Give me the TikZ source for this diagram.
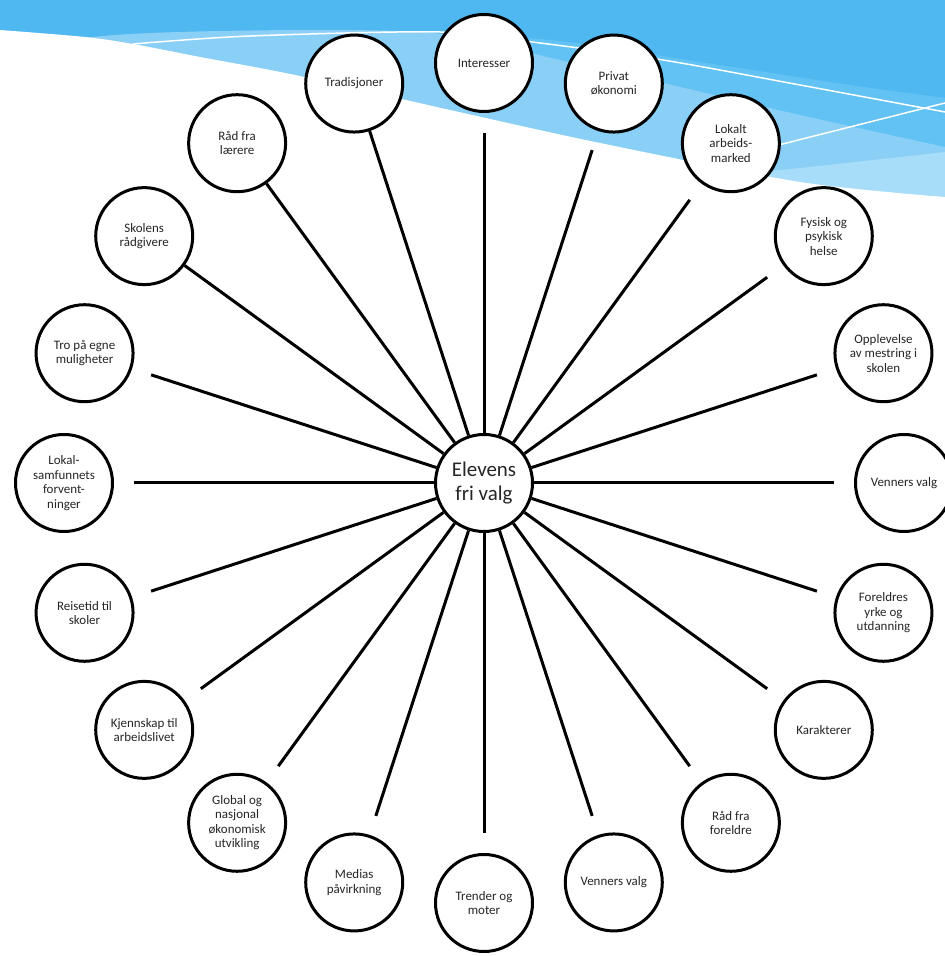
\documentclass[tikz,border=0pt]{standalone}
\usepackage{fontspec}
\setmainfont{Carlito}
\definecolor{bgdark}{RGB}{79,184,241}
\definecolor{bgmid}{RGB}{98,194,243}
\definecolor{bglight}{RGB}{138,207,246}
\definecolor{bglightest}{RGB}{168,221,249}
\tikzset{
  outer/.style={circle, draw=black, line width=3bp, fill=white, minimum size=97bp, inner sep=0pt, align=center, font=\fontsize{13}{14.5}\selectfont, text=black!85},
  hub/.style={circle, draw=black, line width=3bp, fill=white, minimum size=97bp, inner sep=0pt, align=center, font=\fontsize{21}{24}\selectfont, text=black!85},
  spoke/.style={line width=3bp, black},
  wline/.style={white, line width=1.5bp}
}
\begin{document}
\begin{tikzpicture}[x=1bp,y=1bp]
\useasboundingbox (0,0) rectangle (945,956);
% background wave (pixel coordinates, y downwards)
\begin{scope}[shift={(0,956)}, yscale=-1]
  \fill[bgdark] (0,0) rectangle (945,300);
  \fill[bgmid] plot[smooth] coordinates {(380,31) (550,40) (700,62) (850,85) (945,98)} -- (945,300) -- (380,300) -- cycle;
  \fill[bglight] (0,50) -- plot[smooth] coordinates {(60,40) (130,34) (220,31) (350,30) (450,35) (560,60) (663,83) (800,115) (945,147)} -- (945,300) -- (0,300) -- cycle;
  \fill[bglightest] plot[smooth] coordinates {(700,178) (800,168) (945,152)} -- (945,300) -- (700,300) -- cycle;
  \fill[white] plot[smooth] coordinates {(0,30) (85,37) (133,44) (200,57) (300,76) (450,110) (600,143) (800,182) (945,197)} -- (945,300) -- (0,300) -- cycle;
  \draw[wline] plot[smooth] coordinates {(133,44) (250,36) (440,32) (540,43) (663,60) (800,85) (945,112)};
  \draw[wline] (731,157) -- (945,103);
\end{scope}
\begin{scope}[shift={(484,473)}]
  \node[hub] (hub) at (0,0) {Elevens\\fri valg};
  \node[outer] (o1) at (90:420) {Interesser};
  \node[outer] (o2) at (72:420) {Privat\\økonomi};
  \node[outer] (o3) at (54:420) {Lokalt\\arbeids-\\marked};
  \node[outer] (o4) at (36:420) {Fysisk og\\psykisk\\helse};
  \node[outer] (o5) at (18:420) {Opplevelse\\av mestring i\\skolen};
  \node[outer] (o6) at (0:420) {Venners valg};
  \node[outer] (o7) at (-18:420) {Foreldres\\yrke og\\utdanning};
  \node[outer] (o8) at (-36:420) {Karakterer};
  \node[outer] (o9) at (-54:420) {Råd fra\\foreldre};
  \node[outer] (o10) at (-72:420) {Venners valg};
  \node[outer] (o11) at (-90:420) {Trender og\\moter};
  \node[outer] (o12) at (-108:420) {Medias\\påvirkning};
  \node[outer] (o13) at (-126:420) {Global og\\nasjonal\\økonomisk\\utvikling};
  \node[outer] (o14) at (-144:420) {Kjennskap til\\arbeidslivet};
  \node[outer] (o15) at (-162:420) {Reisetid til\\skoler};
  \node[outer] (o16) at (180:420) {Lokal-\\samfunnets\\forvent-\\ninger};
  \node[outer] (o17) at (162:420) {Tro på egne\\muligheter};
  \node[outer] (o18) at (144:420) {Skolens\\rådgivere};
  \node[outer] (o19) at (126:420) {Råd fra\\lærere};
  \node[outer] (o20) at (108:420) {Tradisjoner};
  \foreach \a [count=\i] in {90,72,54,36,18,0,-18,-36,-54,-72,-90,-108,-126,-144,-162,180,162}
    \coordinate (e\i) at (\a:350);
  \foreach \i in {1,...,17}
    \draw[spoke] (hub) -- (e\i);
  \draw[spoke] (hub) -- (o18);
  \draw[spoke] (hub) -- (o19);
  \draw[spoke] (hub) -- (o20);
\end{scope}
\end{tikzpicture}
\end{document}
